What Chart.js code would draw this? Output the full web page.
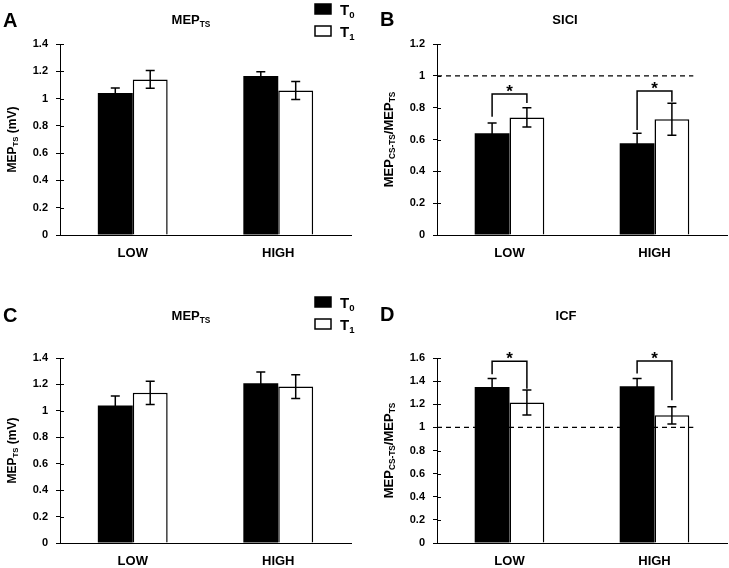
<!DOCTYPE html>
<html>
<head>
<meta charset="utf-8">
<script src="https://cdn.jsdelivr.net/npm/chart.js@4.4.0/dist/chart.umd.min.js"></script>
<style>
  body { margin: 0; background: #fff; }
  canvas { position: absolute; }
</style>
</head>
<body>
<canvas id="grafA" width="364" height="280" style="left:0;top:0"></canvas>
<canvas id="grafB" width="364" height="280" style="left:365px;top:0"></canvas>
<canvas id="grafC" width="364" height="288" style="left:0;top:280px"></canvas>
<canvas id="grafD" width="364" height="288" style="left:365px;top:280px"></canvas>
<script>
var categories = ['LOW', 'HIGH'];

// A - MEP TS
var mepA_T0 = [1.04, 1.165];
var mepA_T0err = [0.037, 0.032];
var mepA_T1 = [1.14, 1.06];
var mepA_T1err = [0.065, 0.066];

// B - SICI
var sici_T0 = [0.639, 0.576];
var sici_T0err = [0.064, 0.063];
var sici_T1 = [0.739, 0.727];
var sici_T1err = [0.061, 0.10];
var siciSigTop = [0.886, 0.905];
var siciSigLeft = [0.743, 0.66];
var siciSigRight = [0.829, 0.837];

// C - MEP TS
var mepC_T0 = [1.04, 1.209];
var mepC_T0err = [0.073, 0.085];
var mepC_T1 = [1.137, 1.184];
var mepC_T1err = [0.088, 0.09];

// D - ICF
var icf_T0 = [1.35, 1.356];
var icf_T0err = [0.072, 0.066];
var icf_T1 = [1.215, 1.104];
var icf_T1err = [0.108, 0.075];
var icfSigTop = [1.571, 1.574];
var icfSigLeft = [1.459, 1.465];
var icfSigRight = [1.335, 1.235];

var ticksMep = [0, 0.2, 0.4, 0.6, 0.8, 1, 1.2, 1.4];
var ticksSici = [0, 0.2, 0.4, 0.6, 0.8, 1, 1.2];
var ticksIcf = [0, 0.2, 0.4, 0.6, 0.8, 1, 1.2, 1.4, 1.6];

var FONT = '"Liberation Sans", Arial, sans-serif';

// text with subscripts: parts = [[text, isSub], ...]
function drawRich(ctx, parts, x, y, size, align) {
  var w = 0;
  parts.forEach(function(p) {
    ctx.font = 'bold ' + (p[1] ? size * 0.64 : size) + 'px ' + FONT;
    w += ctx.measureText(p[0]).width;
  });
  var cx = align === 'center' ? x - w / 2 : x;
  ctx.textAlign = 'left';
  ctx.textBaseline = 'alphabetic';
  ctx.fillStyle = '#000';
  parts.forEach(function(p) {
    ctx.font = 'bold ' + (p[1] ? size * 0.64 : size) + 'px ' + FONT;
    ctx.fillText(p[0], cx, p[1] ? y + size * 0.22 : y);
    cx += ctx.measureText(p[0]).width;
  });
}

function makePlugin(cfg) {
  return {
    id: 'extras' + cfg.letter,
    afterDatasetsDraw: function(chart) {
      var ctx = chart.ctx;
      var ys = chart.scales.y;
      var area = chart.chartArea;
      var m0 = chart.getDatasetMeta(0);
      var m1 = chart.getDatasetMeta(1);
      ctx.save();
      ctx.strokeStyle = '#000';

      // error bars
      ctx.lineWidth = 1.5;
      [[m0, cfg.t0, cfg.t0err], [m1, cfg.t1, cfg.t1err]].forEach(function(s) {
        s[0].data.forEach(function(bar, i) {
          var top = ys.getPixelForValue(s[1][i] + s[2][i]);
          var bot = ys.getPixelForValue(s[1][i] - s[2][i]);
          ctx.beginPath();
          ctx.moveTo(bar.x, top); ctx.lineTo(bar.x, bot);
          ctx.moveTo(bar.x - 4.5, top); ctx.lineTo(bar.x + 4.5, top);
          ctx.moveTo(bar.x - 4.5, bot); ctx.lineTo(bar.x + 4.5, bot);
          ctx.stroke();
        });
      });

      // dashed line at 1
      if (cfg.refLine) {
        var last = m1.data[m1.data.length - 1];
        var yr = ys.getPixelForValue(1);
        ctx.lineWidth = 1.2;
        ctx.setLineDash([5, 4]);
        ctx.beginPath();
        ctx.moveTo(area.left, yr);
        ctx.lineTo(last.x + last.width / 2 + 4, yr);
        ctx.stroke();
        ctx.setLineDash([]);
      }

      // significance brackets
      if (cfg.sig) {
        ctx.lineWidth = 1.5;
        for (var i = 0; i < categories.length; i++) {
          var x0 = m0.data[i].x, x1 = m1.data[i].x;
          var yt = ys.getPixelForValue(cfg.sig[0][i]);
          ctx.beginPath();
          ctx.moveTo(x0, ys.getPixelForValue(cfg.sig[1][i]));
          ctx.lineTo(x0, yt);
          ctx.lineTo(x1, yt);
          ctx.lineTo(x1, ys.getPixelForValue(cfg.sig[2][i]));
          ctx.stroke();
          ctx.fillStyle = '#000';
          ctx.font = 'bold 17px ' + FONT;
          ctx.textAlign = 'center';
          ctx.textBaseline = 'alphabetic';
          ctx.fillText('*', (x0 + x1) / 2, yt + 3);
        }
      }
      ctx.restore();
    },
    afterDraw: function(chart) {
      var ctx = chart.ctx;
      var ys = chart.scales.y;
      var area = chart.chartArea;
      ctx.save();

      // inner half of the cross tick marks
      ctx.strokeStyle = '#000';
      ctx.lineWidth = 1;
      ys.ticks.forEach(function(t) {
        var y = Math.round(ys.getPixelForValue(t.value)) + 0.5;
        ctx.beginPath();
        ctx.moveTo(area.left, y); ctx.lineTo(area.left + 4, y);
        ctx.stroke();
      });

      // panel letter and title
      ctx.fillStyle = '#000';
      ctx.font = 'bold 20px ' + FONT;
      ctx.textAlign = 'left';
      ctx.textBaseline = 'alphabetic';
      ctx.fillText(cfg.letter, cfg.letterPos[0], cfg.letterPos[1]);
      drawRich(ctx, cfg.title, cfg.titlePos[0], cfg.titlePos[1], 13, 'center');

      // rotated y axis title
      ctx.save();
      ctx.translate(cfg.yTitleX, (area.top + area.bottom) / 2);
      ctx.rotate(-Math.PI / 2);
      drawRich(ctx, cfg.yTitle, 0, 4.5, cfg.yTitleSize, 'center');
      ctx.restore();

      // legend
      if (cfg.legend) {
        var lx = cfg.legend[0], ly = cfg.legend[1];
        [['0', '#000'], ['1', '#fff']].forEach(function(l, k) {
          var by = ly + k * 22;
          ctx.fillStyle = l[1];
          ctx.fillRect(lx, by, 16, 10);
          ctx.strokeStyle = '#000';
          ctx.lineWidth = 1.5;
          ctx.strokeRect(lx, by, 16, 10);
          ctx.fillStyle = '#000';
          drawRich(ctx, [['T', false], [l[0], true]], lx + 25, by + 10.5, 15, 'left');
        });
      }
      ctx.restore();
    }
  };
}

function makeChart(id, cfg) {
  var yMax = cfg.ticks[cfg.ticks.length - 1];
  return new Chart(document.getElementById(id), {
    type: 'bar',
    data: {
      labels: categories,
      datasets: [
        { label: 'T0', data: cfg.t0, backgroundColor: '#000', borderColor: '#000', borderWidth: 0 },
        { label: 'T1', data: cfg.t1, backgroundColor: '#fff', borderColor: '#000', borderWidth: 1.5 }
      ]
    },
    options: {
      responsive: false,
      animation: false,
      categoryPercentage: 0.48,
      barPercentage: 1.0,
      layout: { padding: { left: 0, right: cfg.padRight, top: cfg.padTop, bottom: 0 } },
      plugins: { legend: { display: false }, tooltip: { enabled: false } },
      scales: {
        x: {
          afterFit: function(s) { s.height = cfg.xHeight; },
          grid: { display: false },
          border: { display: true, color: '#000', width: 1 },
          ticks: { color: '#000', font: { family: FONT, size: 13, weight: 'bold' }, padding: 3 }
        },
        y: {
          min: 0,
          max: yMax,
          afterFit: function(s) { s.width = cfg.yWidth; },
          afterBuildTicks: function(s) {
            s.ticks = cfg.ticks.map(function(v) { return { value: v }; });
          },
          grid: { drawOnChartArea: false, drawTicks: true, tickLength: 4, color: '#000' },
          border: { display: true, color: '#000', width: 1 },
          ticks: {
            color: '#000',
            font: { family: FONT, size: 11, weight: 'bold' },
            padding: 8,
            callback: function(v) { return String(Math.round(v * 10) / 10); }
          }
        }
      }
    },
    plugins: [makePlugin(cfg)]
  });
}

var mepTitle = [['MEP', false], ['TS', true]];
var mepAxis = [['MEP', false], ['TS', true], [' (mV)', false]];
var ratioAxis = [['MEP', false], ['CS-TS', true], ['/MEP', false], ['TS', true]];

makeChart('grafA', {
  letter: 'A', letterPos: [3, 27], title: mepTitle, titlePos: [191, 24],
  yTitle: mepAxis, yTitleX: 11, yTitleSize: 12, legend: [315, 4],
  t0: mepA_T0, t0err: mepA_T0err, t1: mepA_T1, t1err: mepA_T1err,
  ticks: ticksMep, yWidth: 60, xHeight: 45, padTop: 44, padRight: 13
});

makeChart('grafB', {
  letter: 'B', letterPos: [15, 26], title: [['SICI', false]], titlePos: [200, 24],
  yTitle: ratioAxis, yTitleX: 23, yTitleSize: 13, refLine: true,
  sig: [siciSigTop, siciSigLeft, siciSigRight],
  t0: sici_T0, t0err: sici_T0err, t1: sici_T1, t1err: sici_T1err,
  ticks: ticksSici, yWidth: 72, xHeight: 45, padTop: 44, padRight: 2
});

makeChart('grafC', {
  letter: 'C', letterPos: [3, 42], title: mepTitle, titlePos: [191, 40],
  yTitle: mepAxis, yTitleX: 11, yTitleSize: 12, legend: [315, 17],
  t0: mepC_T0, t0err: mepC_T0err, t1: mepC_T1, t1err: mepC_T1err,
  ticks: ticksMep, yWidth: 60, xHeight: 25, padTop: 78, padRight: 13
});

makeChart('grafD', {
  letter: 'D', letterPos: [15, 41], title: [['ICF', false]], titlePos: [201, 40],
  yTitle: ratioAxis, yTitleX: 23, yTitleSize: 13, refLine: true,
  sig: [icfSigTop, icfSigLeft, icfSigRight],
  t0: icf_T0, t0err: icf_T0err, t1: icf_T1, t1err: icf_T1err,
  ticks: ticksIcf, yWidth: 72, xHeight: 25, padTop: 78, padRight: 2
});
</script>
</body>
</html>
